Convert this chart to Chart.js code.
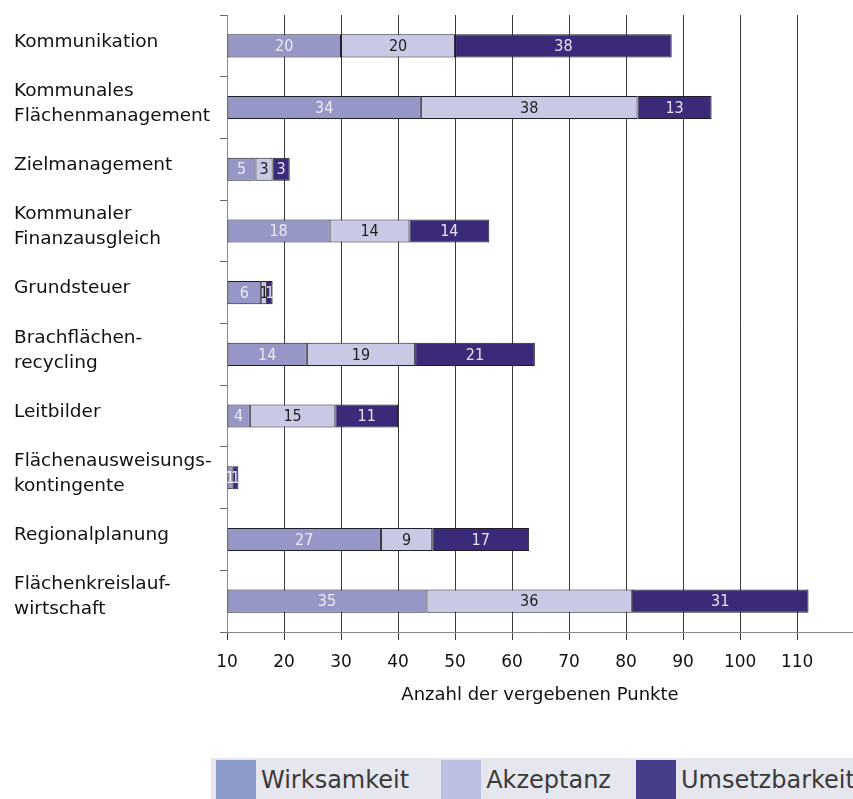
<!DOCTYPE html>
<html lang="de">
<head>
<meta charset="utf-8">
<title>Anzahl der vergebenen Punkte</title>
<script src="https://cdn.jsdelivr.net/npm/chart.js@4.4.1/dist/chart.umd.min.js"></script>
<style>
  html, body { margin: 0; padding: 0; background: #fff; }
  #wrap { position: relative; width: 853px; height: 799px; overflow: hidden; }
  #chart-box { position: absolute; left: 0; top: 0; width: 853px; height: 720px; }
  #legend {
    position: absolute; left: 211px; top: 758px; width: 650px; height: 50px;
    background: #e6e6ee; display: flex; align-items: flex-start;
    font-family: "DejaVu Sans", sans-serif; font-size: 24px; color: #3a3a3a;
  }
  .legend-item { display: flex; align-items: flex-start; height: 45px; }
  .legend-swatch { width: 40px; height: 45px; margin-top: 2px; margin-right: 5px; }
  .legend-text { line-height: 40px; margin-top: 2px; }
</style>
</head>
<body>
<div id="wrap">
  <div id="chart-box"><canvas id="chart"></canvas></div>
  <div id="legend"></div>
</div>
<script>
// categories (multi-line labels as in the original)
const categories = [
  ['Kommunikation'],
  ['Kommunales', 'Flächenmanagement'],
  ['Zielmanagement'],
  ['Kommunaler', 'Finanzausgleich'],
  ['Grundsteuer'],
  ['Brachflächen-', 'recycling'],
  ['Leitbilder'],
  ['Flächenausweisungs-', 'kontingente'],
  ['Regionalplanung'],
  ['Flächenkreislauf-', 'wirtschaft']
];

const seriesNames = ['Wirksamkeit', 'Akzeptanz', 'Umsetzbarkeit'];
const wirksamkeit = [20, 34, 5, 18, 6, 14, 4, 1, 27, 35];
const akzeptanz = [20, 38, 3, 14, 1, 19, 15, 0, 9, 36];
const umsetzbarkeit = [38, 13, 3, 14, 1, 21, 11, 1, 17, 31];

// the axis of the original starts at 10, so tick labels are shifted
const tickOffset = 10;
const axisTitle = 'Anzahl der vergebenen Punkte';

const barColors = ['#9797c7', '#c9c9e5', '#3a2a78'];
const legendColors = ['#8c9aca', '#bcc0e0', '#463e88'];
const labelColors = ['#ececf6', '#222222', '#e4e4f0'];
const legendGaps = [5, 32, 25];

// value labels inside the bar segments
const segmentLabels = {
  id: 'segmentLabels',
  afterDatasetsDraw(chart) {
    const ctx = chart.ctx;
    ctx.save();
    ctx.font = '16px "Liberation Sans Narrow", "DejaVu Sans Condensed", sans-serif';
    ctx.textAlign = 'center';
    ctx.textBaseline = 'middle';
    chart.data.datasets.forEach((ds, i) => {
      const meta = chart.getDatasetMeta(i);
      meta.data.forEach((bar, j) => {
        const v = ds.data[j];
        if (!v) return;
        ctx.fillStyle = labelColors[i];
        ctx.fillText(String(v), (bar.x + bar.base) / 2, bar.y + 1);
      });
    });
    ctx.restore();
  }
};

const seriesData = [wirksamkeit, akzeptanz, umsetzbarkeit];

const chart = new Chart(document.getElementById('chart'), {
  type: 'bar',
  data: {
    labels: categories,
    datasets: seriesNames.map((name, i) => ({
      label: name,
      data: seriesData[i],
      backgroundColor: barColors[i],
      borderColor: '#1e1e2a',
      borderWidth: 1,
      borderSkipped: false,
      categoryPercentage: 1,
      barPercentage: 0.375
    }))
  },
  options: {
    indexAxis: 'y',
    responsive: true,
    maintainAspectRatio: false,
    animation: false,
    layout: { padding: { left: 14, top: 15, right: 0, bottom: 0 } },
    plugins: {
      legend: { display: false },
      tooltip: { enabled: false }
    },
    scales: {
      x: {
        stacked: true,
        min: 0,
        max: 109.8,
        afterFit: (s) => { s.height = 88; },
        border: { color: '#8a8a8a', width: 1 },
        grid: { color: '#3a3a3a', lineWidth: 1, tickLength: 8, tickColor: '#3a3a3a' },
        ticks: {
          stepSize: 10,
          includeBounds: false,
          padding: 12,
          color: '#111',
          font: { family: '"DejaVu Sans", sans-serif', size: 17 },
          callback: (v) => v + tickOffset
        },
        title: {
          display: true,
          text: axisTitle,
          color: '#111',
          padding: { top: 0, bottom: 14 },
          font: { family: '"DejaVu Sans", sans-serif', size: 18 }
        }
      },
      y: {
        stacked: true,
        afterFit: (s) => {
          s.width = 213;
          // labels stay inside their rows, no extra room above/below
          s.paddingTop = 0;
          s.paddingBottom = 0;
        },
        border: { color: '#8a8a8a', width: 1 },
        grid: { drawOnChartArea: false, offset: true, tickLength: 7, color: '#6a6a6a' },
        ticks: {
          crossAlign: 'far',
          labelOffset: -4,
          color: '#111',
          font: { family: '"DejaVu Sans", sans-serif', size: 18.5, lineHeight: 1.35 }
        }
      }
    }
  },
  plugins: [segmentLabels]
});

// legend below the chart
const legendEl = document.getElementById('legend');
legendEl.innerHTML = seriesNames.map((name, i) => `
  <div class="legend-item" style="margin-left:${legendGaps[i]}px">
    <span class="legend-swatch" style="background:${legendColors[i]}"></span>
    <span class="legend-text">${name}</span>
  </div>`).join('');
</script>
</body>
</html>
